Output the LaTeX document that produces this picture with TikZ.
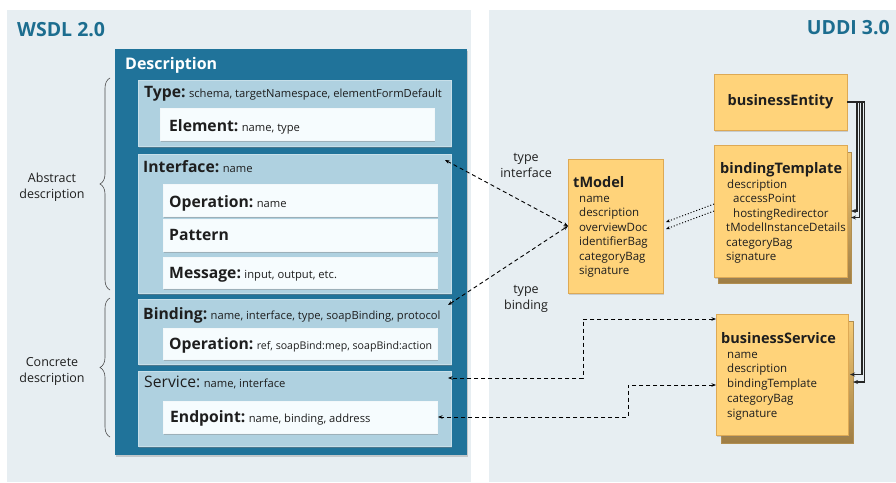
\documentclass[tikz,border=0pt]{standalone}
\usepackage{fontspec}
\setmainfont{Open Sans}
\usetikzlibrary{arrows.meta,decorations.pathreplacing,shadows,calc}

\definecolor{panel}{HTML}{E7EEF2}
\definecolor{deepteal}{HTML}{20739A}
\definecolor{titleblue}{HTML}{1C6D8F}
\definecolor{lightblue}{HTML}{AFD1E0}
\definecolor{whitebox}{HTML}{F6FCFE}
\definecolor{orng}{HTML}{FFD37A}
\definecolor{orngedge}{HTML}{DDA955}
\definecolor{orngdark}{HTML}{9E7D45}
\definecolor{ink}{HTML}{1E1E1E}

\newcommand\wsBold{\fontsize{15.7}{18}\selectfont\bfseries}
\newcommand\wsSmall{\fontsize{11.2}{13}\selectfont}
\newcommand\wsLabel[2]{{\wsBold #1} {\wsSmall #2}}

\begin{document}
\begin{tikzpicture}[x=1pt,y=-1pt,
  every node/.style={text=ink},
  box/.style={anchor=north west, inner sep=0pt, outer sep=0pt},
  descbox/.style={box, fill=deepteal, drop shadow={shadow xshift=1pt, shadow yshift=-1.5pt, opacity=.35}},
  bluebox/.style={box, fill=lightblue, draw=lightblue!70!white, line width=.4pt,
     drop shadow={shadow xshift=1pt, shadow yshift=-1.5pt, opacity=.45}},
  wbox/.style={box, fill=whitebox, draw=white!85!lightblue, line width=.4pt,
     drop shadow={shadow xshift=1pt, shadow yshift=-1.5pt, opacity=.4}},
  obox/.style={box, fill=orng, draw=orngedge, line width=.6pt,
     drop shadow={shadow xshift=1pt, shadow yshift=-1.5pt, opacity=.3}},
  obackbox/.style={box, draw=orngdark!80!orng, line width=.5pt,
     top color=orng!90!orngdark, bottom color=orngdark},
  lbl/.style={anchor=base west, inner sep=0pt},
  item/.style={anchor=base west, inner sep=0pt, font=\fontsize{11.5}{13}\selectfont},
  otitle/.style={anchor=base west, inner sep=0pt, font=\fontsize{14.5}{17}\selectfont\bfseries},
  panelttl/.style={inner sep=0pt, text=titleblue, font=\fontsize{19.5}{22}\selectfont\bfseries},
  note/.style={inner sep=0pt, align=center, font=\fontsize{12.5}{16}\selectfont},
  dconn/.style={line width=.9pt, dash pattern=on 4pt off 3pt, {Stealth[length=4.5pt,width=3.5pt]}-{Stealth[length=4.5pt,width=3.5pt]}},
  sconn/.style={line width=1.3pt, draw=black!85, -{Stealth[length=5pt,width=4pt]}},
  dotconn/.style={line width=1pt, dotted, -{Stealth[length=4pt,width=3pt]}},
  bracestyle/.style={draw=ink!80!white, line width=.6pt, decorate, decoration={brace, amplitude=10pt}}
]

% canvas and the two panels
\useasboundingbox (0,0) rectangle (896,482);
\fill[white] (0,0) rectangle (896,482);
\fill[panel] (7,10) rectangle (471,482);
\fill[panel] (489,10) rectangle (896,482);

\node[panelttl, anchor=base west] (wsdl) at (17,36) {WSDL 2.0};
\node[panelttl, anchor=base east] (uddi) at (890,34) {UDDI 3.0};

% ---------------- WSDL description ----------------
\node[descbox, minimum width=352, minimum height=406] (desc) at (115,49) {};
\node[lbl, text=white, font=\fontsize{16}{19}\selectfont\bfseries] (descL) at (125,69) {Description};

\node[bluebox, minimum width=313, minimum height=66] (type) at (138,80) {};
\node[lbl] (typeL) at (144,97) {\wsLabel{Type:}{schema, targetNamespace, elementFormDefault}};
\node[wbox, minimum width=274, minimum height=32] (elem) at (160,108) {};
\node[lbl] (elemL) at (169,131) {\wsLabel{Element:}{name, type}};

\node[bluebox, minimum width=313, minimum height=139] (intf) at (138,154) {};
\node[lbl] (intfL) at (143,172) {\wsLabel{Interface:}{name}};
\node[wbox, minimum width=274, minimum height=32] (op1) at (163,184) {};
\node[lbl] (op1L) at (169,207) {\wsLabel{Operation:}{name}};
\node[wbox, minimum width=274, minimum height=32] (pat) at (163,219) {};
\node[lbl] (patL) at (169,240) {{\wsBold Pattern}};
\node[wbox, minimum width=274, minimum height=31] (msg) at (163,257) {};
\node[lbl] (msgL) at (169,278) {\wsLabel{Message:}{input, output, etc.}};

\node[bluebox, minimum width=313, minimum height=65] (bind) at (138,299) {};
\node[lbl] (bindL) at (143,319) {\wsLabel{Binding:}{name, interface, type, soapBinding, protocol}};
\node[wbox, minimum width=274, minimum height=31] (op2) at (163,328) {};
\node[lbl] (op2L) at (169,349) {{\wsBold Operation:} {\fontsize{10.6}{12}\selectfont ref, soapBind:mep, soapBind:action}};

\node[bluebox, minimum width=313, minimum height=75] (svc) at (138,371) {};
\node[lbl] (svcL) at (144,387) {{\fontsize{15.7}{18}\selectfont Service:} {\wsSmall name, interface}};
\node[wbox, minimum width=274, minimum height=32] (ep) at (163,401) {};
\node[lbl] (epL) at (170,422) {\wsLabel{Endpoint:}{name, binding, address}};

% braces grouping the abstract and concrete parts
\draw[bracestyle] (110,290) -- (110,78);
\draw[bracestyle] (110,437) -- (110,298);
\node[note] (abs) at (52,187) {Abstract\\description};
\node[note] (conc) at (52,371) {Concrete\\description};

% ---------------- UDDI structures ----------------
\node[obox, minimum width=95, minimum height=134] (tm) at (568,159) {};
\node[otitle] (tmT) at (573,187) {tModel};
\foreach \t [count=\i] in {name,description,overviewDoc,identifierBag,categoryBag,signature}
  \node[item] (tm\i) at (579,{202+14.5*(\i-1)}) {\t};

\node[obox, minimum width=133, minimum height=56] (be) at (714,74) {};
\node[inner sep=0pt, font=\fontsize{14.5}{17}\selectfont\bfseries] (beT) at (be.center) {businessEntity};

\node[obackbox, minimum width=133, minimum height=131] (btS) at (718,152) {};
\node[obox, minimum width=133, minimum height=132] (bt) at (714,145) {};
\node[otitle] (btT) at (720,173) {bindingTemplate};
\foreach \dx/\t [count=\i] in {0/description,6/accessPoint,6/hostingRedirector,-1/tModelInstanceDetails,-1/categoryBag,-1/signature}
  \node[item] (bt\i) at ({727+\dx},{188+14.5*(\i-1)}) {\t};

\node[obackbox, minimum width=132, minimum height=122] (bsS) at (721,321) {};
\node[obox, minimum width=132, minimum height=121] (bs) at (716,314) {};
\node[otitle] (bsT) at (721,343) {businessService};
\foreach \t [count=\i] in {name,description,bindingTemplate,categoryBag,signature}
  \node[item] (bs\i) at (727,{358+14.8*(\i-1)}) {\t};

\node[note] (tyI) at (526,165) {type\\interface};
\node[note] (tyB) at (526,299) {type\\binding};

% ---------------- connectors ----------------
\draw[dconn] ([shift={(-6pt,-6pt)}]intf.north east) -- (tm.west);
\draw[dconn] ([shift={(-3pt,-6pt)}]bind.north east) -- (tm.west);

\coordinate (bsA) at ([yshift=-5pt]bs.north west);
\coordinate (svcIn) at ([shift={(-3pt,30.5pt)}]svc.east);
\draw[dconn] (bsA) -- ++(-133,0) |- (svcIn);

\coordinate (bsB) at ([yshift=-10.5pt]bs.west);
\draw[dconn] (bsB) -- ++(-88,0) |- ([xshift=1pt]ep.east);

\draw[dotconn] ([yshift=7pt]bt.west) -- ([shift={(3pt,4pt)}]tm.east);
\draw[dotconn] (bt.west) -- ([shift={(3pt,-3pt)}]tm.east);

\draw[sconn] (be.east) -- ++(10,0) |- ([xshift=4pt]bt.east);
\draw[sconn] (be.east) -- ++(12.5,0) |- (btS.east);
\draw[sconn] (be.east) -- ++(15,0) |- ([xshift=2pt]bs.east);
\draw[sconn] (be.east) -- ++(17.5,0) |- (bsS.east);
\end{tikzpicture}
\end{document}
